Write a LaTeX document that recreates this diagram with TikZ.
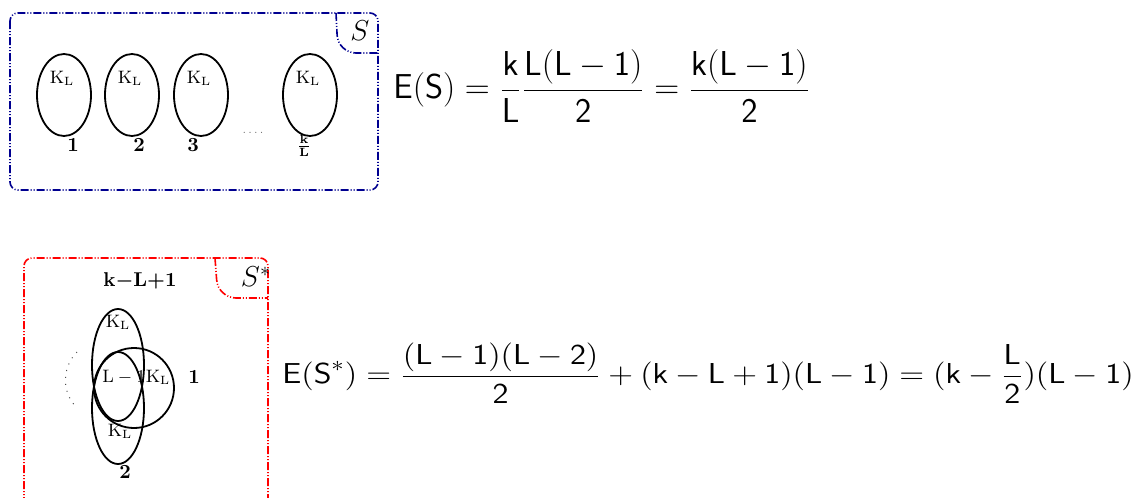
\documentclass[tikz,border=0pt]{standalone}
\usepackage{amsmath}
\usepackage{amssymb}
\usetikzlibrary{shapes.geometric}
\definecolor{setS}{HTML}{000090}
\definecolor{setT}{HTML}{FF0000}
\tikzset{
  setframe/.style={line width=0.8pt, rounded corners=4pt,
    dash pattern=on 4pt off 1pt on 0.5pt off 1pt on 0.5pt off 1pt},
  corner/.style={setframe, rounded corners=9pt},
  keyset/.style={draw, ellipse, line width=0.9pt, inner sep=0pt,
    minimum width=27pt, minimum height=41pt},
  tallset/.style={keyset, minimum width=26pt, minimum height=56pt},
  roundset/.style={draw, circle, line width=0.9pt, inner sep=0pt, minimum size=40pt},
  klabel/.style={font=\small, inner sep=1pt},
  idx/.style={font=\bfseries, inner sep=1pt},
  setname/.style={font=\Large, inner sep=1pt},
  eqn/.style={anchor=west, inner sep=0pt, font=\fontsize{16}{19}\selectfont}
}

\begin{document}
\begin{tikzpicture}[x=0.5pt, y=-0.5pt]
  \useasboundingbox (0,0) rectangle (1131,498);
  % set S: k/L disjoint key sets
  \draw[setframe, draw=setS] (10,13) rectangle (378,190);
  \draw[corner, draw=setS] (336,13) -- (338,53) -- (378,53);
  \node[setname] (sname) at (360,31) {$S$};
  \foreach \i/\x in {1/64, 2/132, 3/201, 4/310} {
    \node[keyset] (s\i) at (\x,95) {};
    \node[klabel] (k\i) at (\x-2,78) {$\mathrm{K_L}$};
  }
  \node[idx] (n1) at (73,145) {1};
  \node[idx] (n2) at (139,145) {2};
  \node[idx] (n3) at (193,145) {3};
  \node[idx, font=\small\boldmath] (n4) at (304,146) {$\frac{\mathbf{k}}{\mathbf{L}}$};
  \node[font=\tiny, text=black!60, inner sep=0pt] (gap) at (253,133) {.\,.\,.\,.};
  \node[eqn] (es) at (393,86)
    {$\displaystyle\mathsf{E(S) = \frac{k}{L}\frac{L(L-1)}{2} = \frac{k(L-1)}{2}}$};

  % set S*: overlapping key sets
  \draw[setframe, draw=setT] (24,505) -- (24,258) -- (268,258) -- (268,505);
  \draw[corner, draw=setT] (215,258) -- (218,298) -- (268,298);
  \node[setname] (tname) at (256,277) {$S^*$};
  \node[idx, font=\boldmath] (count) at (140,281) {$\mathbf{k}{-}\mathbf{L}{+}\mathbf{1}$};
  \node[tallset] (t1) at (118,365) {};
  \node[tallset] (t2) at (118,408) {};
  \node[roundset] (c1) at (134,388) {};
  \node[klabel] (kt1) at (118,322) {$\mathrm{K_L}$};
  \node[klabel] (kc1) at (158,377) {$\mathrm{K_L}$};
  \node[klabel] (kt2) at (120,431) {$\mathrm{K_L}$};
  \node[klabel] (core) at (124,377) {$\mathrm{L}-1$};
  \node[idx] (m1) at (194,377) {1};
  \node[idx] (m2) at (125,472) {2};
  \draw[line width=0.5pt, black!70, dash pattern=on 0.5pt off 3pt] (77,352) to[bend right=45] (77,408);
  \node[eqn, font=\fontsize{15.6}{19}\selectfont] (et) at (282,373)
    {\scalebox{1.13}[1]{$\displaystyle\mathsf{E(S^*) = \frac{(L-1)(L-2)}{2} + (k-L+1)(L-1) = (k-\frac{L}{2})(L-1)}$}};
\end{tikzpicture}
\end{document}
